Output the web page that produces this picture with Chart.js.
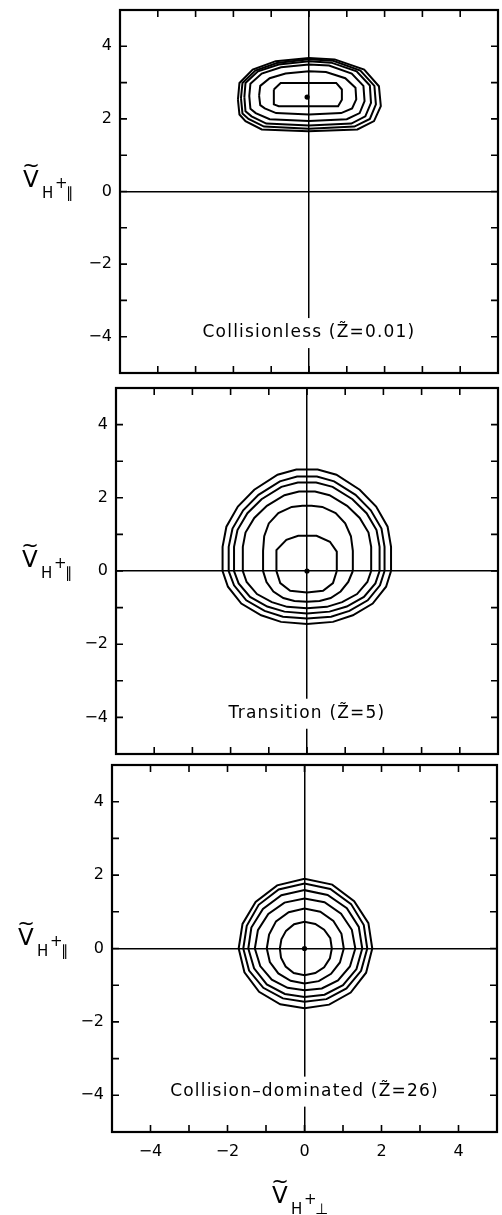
<!DOCTYPE html>
<html>
<head>
<meta charset="utf-8">
<script src="https://cdn.jsdelivr.net/npm/chart.js@4.4.1/dist/chart.umd.min.js"></script>
<style>
html, body { margin: 0; padding: 0; background: #fff; }
body { width: 502px; height: 1215px; position: relative; overflow: hidden; }
canvas { position: absolute; left: 0; }
</style>
</head>
<body>
<canvas id="p1" width="502" height="380" style="top:0px"></canvas>
<canvas id="p2" width="502" height="380" style="top:380px"></canvas>
<canvas id="p3" width="502" height="455" style="top:760px"></canvas>
<script>
// axis settings
const axisMin = -5;
const axisMax = 5;
const tickLabels = [-4, -2, 0, 2, 4];
const minorTicks = [-4, -3, -2, -1, 0, 1, 2, 3, 4];

// contour rings, outermost first, as [v_perp, v_par] vertices
const collisionlessContours = [
    [[-1.88,2.53],[-1.84,2.12],[-1.68,1.94],[-1.25,1.71],[-0.02,1.66],[1.28,1.71],[1.72,1.94],[1.90,2.35],[1.85,2.90],[1.46,3.36],[0.68,3.64],[0,3.68],[-0.88,3.59],[-1.49,3.36],[-1.84,2.99],[-1.88,2.53]],
    [[-1.80,2.57],[-1.76,2.15],[-1.60,2.00],[-1.19,1.79],[0,1.73],[1.20,1.79],[1.61,2.00],[1.77,2.40],[1.73,2.91],[1.36,3.33],[0.64,3.60],[0,3.64],[-0.85,3.54],[-1.42,3.33],[-1.76,2.99],[-1.80,2.57]],
    [[-1.71,2.60],[-1.68,2.21],[-1.52,2.07],[-1.13,1.87],[0,1.82],[1.12,1.87],[1.49,2.07],[1.64,2.44],[1.61,2.92],[1.26,3.31],[0.59,3.55],[0,3.59],[-0.80,3.50],[-1.35,3.31],[-1.68,2.99],[-1.71,2.60]],
    [[-1.58,2.63],[-1.55,2.28],[-1.41,2.16],[-1.04,1.99],[0,1.94],[1.00,1.99],[1.34,2.16],[1.47,2.49],[1.44,2.91],[1.13,3.25],[0.53,3.47],[0,3.50],[-0.74,3.42],[-1.25,3.25],[-1.55,2.97],[-1.58,2.63]],
    [[-1.32,2.64],[-1.29,2.38],[-1.17,2.29],[-0.87,2.16],[0,2.12],[0.85,2.16],[1.14,2.29],[1.25,2.54],[1.23,2.86],[0.96,3.12],[0.45,3.29],[0,3.31],[-0.62,3.25],[-1.04,3.12],[-1.29,2.91],[-1.32,2.64]],
    [[-0.93,2.81],[-0.93,2.40],[-0.80,2.35],[0.77,2.35],[0.87,2.53],[0.87,2.81],[0.72,2.99],[-0.75,2.99],[-0.93,2.81]]
];
const collisionlessPeak = [-0.05, 2.60];

const transitionContours = [
    [[2.20,0],[2.20,0.66],[2.11,1.21],[1.81,1.76],[1.38,2.22],[0.77,2.63],[0.28,2.77],[-0.28,2.77],[-0.77,2.63],[-1.38,2.22],[-1.81,1.76],[-2.11,1.21],[-2.21,0.66],[-2.21,0],[-2.07,-0.43],[-1.72,-0.89],[-1.20,-1.21],[-0.68,-1.39],[0,-1.45],[0.68,-1.39],[1.20,-1.21],[1.72,-0.89],[2.07,-0.43],[2.20,0]],
    [[2.03,0],[2.03,0.66],[1.95,1.16],[1.67,1.66],[1.27,2.08],[0.71,2.45],[0.26,2.58],[-0.26,2.58],[-0.71,2.45],[-1.27,2.08],[-1.67,1.66],[-1.95,1.16],[-2.05,0.66],[-2.05,0],[-1.91,-0.39],[-1.59,-0.80],[-1.11,-1.09],[-0.63,-1.25],[0,-1.30],[0.63,-1.25],[1.11,-1.09],[1.59,-0.80],[1.91,-0.39],[2.03,0]],
    [[1.90,0],[1.90,0.66],[1.82,1.12],[1.56,1.58],[1.19,1.96],[0.67,2.30],[0.24,2.42],[-0.24,2.42],[-0.67,2.30],[-1.19,1.96],[-1.56,1.58],[-1.82,1.12],[-1.91,0.66],[-1.91,0],[-1.79,-0.34],[-1.49,-0.71],[-1.04,-0.97],[-0.59,-1.11],[0,-1.16],[0.59,-1.11],[1.04,-0.97],[1.49,-0.71],[1.79,-0.34],[1.90,0]],
    [[1.68,0],[1.68,0.66],[1.61,1.05],[1.38,1.45],[1.05,1.78],[0.59,2.07],[0.21,2.17],[-0.21,2.17],[-0.59,2.07],[-1.05,1.78],[-1.38,1.45],[-1.61,1.05],[-1.68,0.66],[-1.68,0],[-1.58,-0.30],[-1.31,-0.63],[-0.92,-0.85],[-0.52,-0.98],[0,-1.02],[0.52,-0.98],[0.92,-0.85],[1.31,-0.63],[1.58,-0.30],[1.68,0]],
    [[1.20,0],[1.20,0.55],[1.15,0.95],[1.00,1.30],[0.75,1.58],[0.40,1.75],[0.12,1.78],[-0.12,1.78],[-0.40,1.75],[-0.75,1.58],[-1.00,1.30],[-1.12,0.95],[-1.15,0.55],[-1.15,0],[-1.06,-0.30],[-0.88,-0.56],[-0.62,-0.74],[-0.33,-0.82],[0,-0.84],[0.33,-0.82],[0.62,-0.74],[0.88,-0.56],[1.08,-0.30],[1.20,0]],
    [[0.78,0],[0.78,0.53],[0.60,0.80],[0.25,0.96],[-0.23,0.96],[-0.54,0.85],[-0.80,0.57],[-0.80,0],[-0.70,-0.33],[-0.44,-0.54],[0,-0.59],[0.42,-0.54],[0.68,-0.33],[0.78,0]]
];
const transitionPeak = [0, 0];

const collisionalContours = [
    [[1.76,0],[1.66,0.69],[1.29,1.29],[0.72,1.74],[0,1.90],[-0.71,1.72],[-1.27,1.27],[-1.61,0.67],[-1.71,0],[-1.56,-0.65],[-1.18,-1.18],[-0.63,-1.52],[0,-1.63],[0.64,-1.53],[1.20,-1.20],[1.60,-0.66],[1.76,0]],
    [[1.63,0],[1.54,0.64],[1.21,1.21],[0.67,1.62],[0,1.77],[-0.67,1.61],[-1.19,1.19],[-1.50,0.62],[-1.59,0],[-1.44,-0.60],[-1.07,-1.07],[-0.56,-1.36],[0,-1.45],[0.57,-1.38],[1.09,-1.09],[1.47,-0.61],[1.63,0]],
    [[1.50,0],[1.41,0.59],[1.10,1.10],[0.60,1.46],[0,1.59],[-0.60,1.45],[-1.08,1.08],[-1.38,0.57],[-1.46,0],[-1.31,-0.54],[-0.98,-0.98],[-0.51,-1.24],[0,-1.32],[0.52,-1.26],[1.00,-1.00],[1.35,-0.56],[1.50,0]],
    [[1.32,0],[1.23,0.51],[0.95,0.95],[0.52,1.26],[0,1.36],[-0.52,1.25],[-0.94,0.94],[-1.21,0.50],[-1.29,0],[-1.15,-0.48],[-0.85,-0.85],[-0.44,-1.07],[0,-1.14],[0.45,-1.09],[0.87,-0.87],[1.18,-0.49],[1.32,0]],
    [[1.02,0],[0.96,0.40],[0.75,0.75],[0.41,1.00],[0,1.09],[-0.41,0.99],[-0.74,0.74],[-0.92,0.38],[-0.98,0],[-0.90,-0.37],[-0.68,-0.68],[-0.36,-0.88],[0,-0.95],[0.37,-0.89],[0.69,-0.69],[0.92,-0.38],[1.02,0]],
    [[0.71,0],[0.67,0.28],[0.51,0.51],[0.28,0.67],[0,0.73],[-0.27,0.66],[-0.48,0.48],[-0.60,0.25],[-0.64,0],[-0.61,-0.25],[-0.49,-0.49],[-0.28,-0.67],[0,-0.73],[0.28,-0.67],[0.51,-0.51],[0.66,-0.27],[0.71,0]]
];
const collisionalPeak = [0, 0];

const regimeLabels = ['Collisionless (Z\u0303=0.01)', 'Transition (Z\u0303=5)', 'Collision\u2013dominated (Z\u0303=26)'];
const labelAt = [0, -3.9];

Chart.defaults.font.family = '"DejaVu Sans", sans-serif';
Chart.defaults.color = '#000';

function fmtTick(v) {
    if (!tickLabels.includes(v)) return '';
    return v < 0 ? '\u2212' + (-v) : String(v);
}

// V with a wide tilde over it, then H, superscript + and the subscript
function drawVelocityTitle(ctx, x0, y0, sub) {
    ctx.letterSpacing = '0px';
    ctx.textAlign = 'left';
    ctx.textBaseline = 'alphabetic';
    ctx.fillStyle = '#000';
    ctx.font = '23px "DejaVu Sans"';
    ctx.fillText('V', x0, y0);
    ctx.font = '21px "DejaVu Sans"';
    ctx.textAlign = 'center';
    ctx.fillText('~', x0 + 8, y0 - 15);
    ctx.textAlign = 'left';
    ctx.font = '15px "DejaVu Sans"';
    ctx.fillText('H', x0 + 19, y0 + 11);
    ctx.fillText('+', x0 + 32, y0 + 1);
    ctx.fillText(sub, x0 + 43, y0 + 11);
}

// frame, inward ticks, regime label and axis titles
const decor = {
    id: 'decor',
    afterDatasetsDraw(chart, args, o) {
        const { ctx, chartArea: a, scales: { x, y } } = chart;
        ctx.save();

        ctx.font = '17px "DejaVu Sans"';
        ctx.letterSpacing = '1.2px';
        const lx = x.getPixelForValue(labelAt[0]);
        const ly = y.getPixelForValue(labelAt[1]);
        const w = ctx.measureText(o.label).width;
        ctx.fillStyle = '#fff';
        ctx.fillRect(lx - w / 2 - 4, ly - 15, w + 8, 30);
        ctx.fillStyle = '#000';
        ctx.textAlign = 'center';
        ctx.textBaseline = 'middle';
        ctx.fillText(o.label, lx, ly);

        ctx.strokeStyle = '#000';
        ctx.lineWidth = 2.2;
        ctx.strokeRect(a.left, a.top, a.right - a.left, a.bottom - a.top);

        ctx.lineWidth = 1.6;
        ctx.beginPath();
        minorTicks.forEach(v => {
            const px = x.getPixelForValue(v);
            const py = y.getPixelForValue(v);
            ctx.moveTo(px, a.top); ctx.lineTo(px, a.top + 7);
            ctx.moveTo(px, a.bottom); ctx.lineTo(px, a.bottom - 7);
            ctx.moveTo(a.left, py); ctx.lineTo(a.left + 7, py);
            ctx.moveTo(a.right, py); ctx.lineTo(a.right - 7, py);
        });
        ctx.stroke();

        drawVelocityTitle(ctx, o.yTitle[0], o.yTitle[1], '\u2225');
        if (o.xTitle) drawVelocityTitle(ctx, o.xTitle[0], o.xTitle[1], '\u22A5');
        ctx.restore();
    }
};

function buildDatasets(rings, peak) {
    const sets = rings.map(ring => ({
        data: ring.map(([vx, vy]) => ({ x: vx, y: vy })),
        showLine: true,
        borderColor: '#000',
        borderWidth: 2,
        pointRadius: 0,
        tension: 0,
        fill: false
    }));
    sets.push({
        data: [{ x: peak[0], y: peak[1] }],
        showLine: false,
        pointRadius: 2.6,
        pointBackgroundColor: '#000',
        pointBorderWidth: 0
    });
    return sets;
}

const zeroLine = c => (c.tick && c.tick.value === 0) ? '#000' : 'rgba(0,0,0,0)';

function makePanel(cfg) {
    new Chart(document.getElementById(cfg.id), {
        type: 'scatter',
        data: { datasets: buildDatasets(cfg.rings, cfg.peak) },
        options: {
            responsive: false,
            animation: false,
            events: [],
            layout: { padding: { left: 0, right: cfg.pad[1], top: cfg.pad[0], bottom: cfg.pad[2] } },
            plugins: {
                legend: { display: false },
                tooltip: { enabled: false },
                decor: { label: cfg.label, yTitle: cfg.yTitle, xTitle: cfg.xTitle }
            },
            scales: {
                x: {
                    type: 'linear',
                    min: axisMin,
                    max: axisMax,
                    border: { display: false },
                    grid: { drawTicks: false, color: zeroLine, lineWidth: 1.5 },
                    ticks: {
                        display: cfg.showX,
                        stepSize: 1,
                        autoSkip: false,
                        maxRotation: 0,
                        padding: 10,
                        font: { size: 16 },
                        callback: fmtTick
                    },
                    afterFit: s => {
                        s.height = cfg.xHeight;
                        s.paddingLeft = 0;
                        s.paddingRight = 0;
                    }
                },
                y: {
                    type: 'linear',
                    min: axisMin,
                    max: axisMax,
                    border: { display: false },
                    grid: { drawTicks: false, color: zeroLine, lineWidth: 1.5 },
                    ticks: {
                        stepSize: 1,
                        autoSkip: false,
                        padding: 8,
                        font: { size: 16 },
                        callback: fmtTick
                    },
                    afterFit: s => {
                        s.width = cfg.left;
                        s.paddingTop = 0;
                        s.paddingBottom = 0;
                    }
                }
            }
        },
        plugins: [decor]
    });
}

makePanel({ id: 'p1', rings: collisionlessContours, peak: collisionlessPeak, label: regimeLabels[0],
    left: 120, pad: [10, 2, 7], xHeight: 0, showX: false, yTitle: [23, 187] });
makePanel({ id: 'p2', rings: transitionContours, peak: transitionPeak, label: regimeLabels[1],
    left: 116, pad: [8, 3, 6], xHeight: 0, showX: false, yTitle: [22, 187] });
makePanel({ id: 'p3', rings: collisionalContours, peak: collisionalPeak, label: regimeLabels[2],
    left: 112, pad: [5, 5, 0], xHeight: 83, showX: true, yTitle: [18, 185], xTitle: [272, 443] });
</script>
</body>
</html>
